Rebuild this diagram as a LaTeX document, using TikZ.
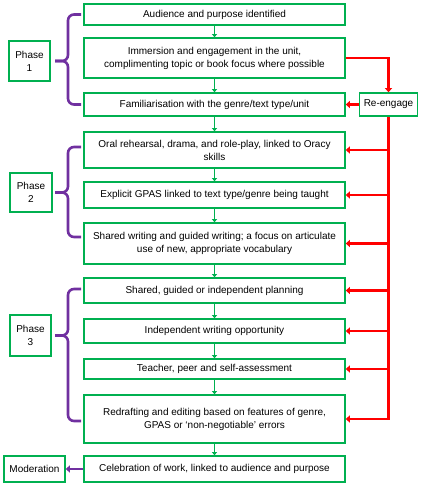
\documentclass[tikz,border=0pt]{standalone}
\usepackage{fontspec}
\setmainfont{Liberation Sans}
\usetikzlibrary{arrows.meta}

\definecolor{stagegreen}{HTML}{00B050}
\definecolor{loopred}{HTML}{FF0000}
\definecolor{phasepurple}{HTML}{7030A0}

\tikzset{
  stage/.style={draw=stagegreen, line width=1.6pt, minimum width=261pt, inner sep=0pt,
    align=center, font=\fontsize{10}{13}\selectfont},
  phase/.style={draw=stagegreen, line width=1.6pt, inner sep=0pt,
    align=center, font=\fontsize{10}{13}\selectfont},
  flow/.style={stagegreen, line width=1.6pt, -{Triangle[length=3pt,width=5pt]}},
  back/.style={loopred, line width=2.6pt, -{Triangle[length=4pt,width=7pt]}},
  bracket/.style={phasepurple, line width=2.6pt, rounded corners=6pt},
}

\begin{document}
\begin{tikzpicture}[x=1pt,y=-1pt] % 1 unit = 1 px, y going down
\useasboundingbox (0,0) rectangle (423,491);

% --------- PARAMETERS ----------
\def\xc{214.5}    % centre of the stage column
\def\xv{68}       % vertical part of the brackets
\def\xa{81}       % end of the bracket arms
\def\xt{55}       % tip of the brackets
% --------------------------------

% Stages
\node[stage, minimum height=21pt] (b1) at (\xc,14.5) {Audience and purpose identified};
\node[stage, minimum height=40pt] (b2) at (\xc,58) {Immersion and engagement in the unit,\\complimenting topic or book focus where possible};
\node[stage, minimum height=23pt] (b3) at (\xc,104.5) {Familiarisation with the genre/text type/unit};
\node[stage, minimum height=36pt] (b4) at (\xc,150) {Oral rehearsal, drama, and role-play, linked to Oracy\\skills};
\node[stage, minimum height=26pt] (b5) at (\xc,195) {Explicit GPAS linked to text type/genre being taught};
\node[stage, minimum height=41pt] (b6) at (\xc,243.5) {Shared writing and guided writing; a focus on articulate\\use of new, appropriate vocabulary};
\node[stage, minimum height=25pt] (b7) at (\xc,290.5) {Shared, guided or independent planning};
\node[stage, minimum height=24pt] (b8) at (\xc,331) {Independent writing opportunity};
\node[stage, minimum height=20pt] (b9) at (\xc,369) {Teacher, peer and self-assessment};
\node[stage, minimum height=48pt] (b10) at (\xc,419) {Redrafting and editing based on features of genre,\\GPAS or ‘non-negotiable’ errors};
\node[stage, minimum height=26pt] (b11) at (\xc,469) {Celebration of work, linked to audience and purpose};

% Phases
\node[phase, minimum width=41pt, minimum height=40pt] (p1) at (29.5,61) {Phase\\1};
\node[phase, minimum width=42pt, minimum height=39pt] (p2) at (31,192.5) {Phase\\2};
\node[phase, minimum width=41pt, minimum height=41pt] (p3) at (30.5,335.5) {Phase\\3};
\node[phase, minimum width=61pt, minimum height=26pt] (mod) at (34.5,469) {Moderation};
\node[phase, minimum width=58pt, minimum height=23pt] (re) at (388.5,104.5) {Re-engage};

% Green arrows down the column
\foreach \n [evaluate=\n as \m using int(\n+1)] in {1,...,10}
  \draw[flow] (b\n.south) -- (b\m.north);

% Brackets
\foreach \ya/\ym/\yb in {14.5/61/104.5, 147/192.5/237, 289/335.5/421}{
  \draw[bracket] (\xa,\ya) -- (\xv,\ya) -- (\xv,\ym) -- (\xt,\ym);
  \draw[bracket] (\xt,\ym) -- (\xv,\ym) -- (\xv,\yb) -- (\xa,\yb);
}

% Re-engage loop
\draw[back] (b2.east) -| (re.north);
\draw[back] (re.west) -- (b3.east);
\draw[back] (re.south) |- (b10.east);
\foreach \n in {4,...,9}
  \draw[back] (re.south |- b\n.east) -- (b\n.east);

% Moderation
\draw[phasepurple, line width=2.6pt, -{Triangle[length=4pt,width=7pt]}] (b11.west) -- (mod.east);

\end{tikzpicture}
\end{document}
